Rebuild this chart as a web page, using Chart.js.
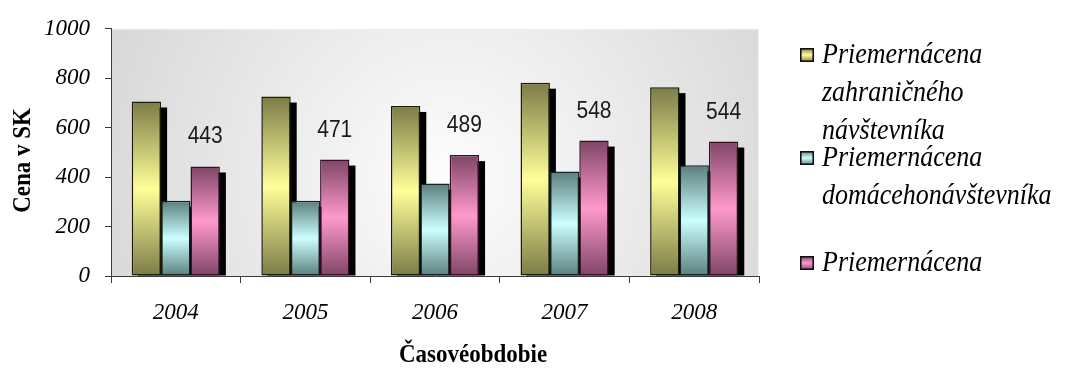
<!DOCTYPE html>
<html>
<head>
<meta charset="utf-8">
<style>
  html, body { margin: 0; padding: 0; background: #ffffff; }
  #wrap { width: 1072px; height: 372px; position: relative; }
</style>
<script src="https://cdn.jsdelivr.net/npm/chart.js@4.4.1/dist/chart.umd.min.js"></script>
</head>
<body>
<div id="wrap"><canvas id="chart" width="1072" height="372"></canvas></div>
<script>
// Categories and series values
const years = ['2004', '2005', '2006', '2007', '2008'];
const foreignVisitorPrice = [706, 726, 688, 782, 764];
const domesticVisitorPrice = [304, 304, 374, 423, 448];
const averagePrice = [443, 471, 489, 548, 544];
const yTickValues = [0, 200, 400, 600, 800, 1000];

// Legend texts (line by line) and axis titles
const foreignLabel = ['Priemernácena', 'zahraničného', 'návštevníka'];
const domesticLabel = ['Priemernácena', 'domácehonávštevníka'];
const averageLabel = ['Priemernácena'];
const xAxisTitle = 'Časovéobdobie';
const yAxisTitle = 'Cena v SK';

// Palette: dark edge tone, light middle tone, outline
const palette = [
  { dark: '#7b7b47', light: '#ffff99', border: '#1c1c08' },
  { dark: '#5b7e7e', light: '#ccffff', border: '#142222' },
  { dark: '#7e4566', light: '#ff99cc', border: '#3a0f26' }
];

const SERIF = "'Liberation Serif', 'Times New Roman', serif";
const SANS = "'Liberation Sans', Arial, sans-serif";

function barFill(p) {
  return (ctx) => {
    const chart = ctx.chart;
    if (!chart.chartArea || ctx.type !== 'data') return p.light;
    const y = chart.scales.y;
    const top = y.getPixelForValue(ctx.raw);
    const base = y.getPixelForValue(0);
    if (!isFinite(top) || Math.abs(base - top) < 1) return p.light;
    const g = chart.ctx.createLinearGradient(0, top, 0, base);
    g.addColorStop(0, p.dark);
    g.addColorStop(0.5, p.light);
    g.addColorStop(1, p.dark);
    return g;
  };
}

// Draws text squeezed slightly taller than wide
function tallText(ctx, text, x, y, stretch) {
  ctx.save();
  ctx.translate(x, y);
  ctx.scale(1, stretch);
  ctx.fillText(text, 0, 0);
  ctx.restore();
}

// Soft grey plot background, lighter towards the middle
const plotBackground = {
  id: 'plotBackground',
  beforeDraw(chart) {
    const { ctx, chartArea: a } = chart;
    const cx = a.left + (a.right - a.left) * 0.52;
    const cy = a.top + (a.bottom - a.top) * 0.6;
    const g = ctx.createRadialGradient(cx, cy, 0, cx, cy, 380);
    g.addColorStop(0, '#fdfdfd');
    g.addColorStop(0.45, '#ececec');
    g.addColorStop(1, '#d6d6d6');
    ctx.save();
    ctx.fillStyle = g;
    ctx.fillRect(a.left, a.top, a.right - a.left, a.bottom - a.top);
    ctx.strokeStyle = '#f2f2f2';
    ctx.lineWidth = 1;
    ctx.strokeRect(a.left + 0.5, a.top + 0.5, a.right - a.left - 1, a.bottom - a.top);
    ctx.restore();
  }
};

// Black drop shadows offset behind every bar
const barShadows = {
  id: 'barShadows',
  beforeDatasetsDraw(chart, args, opts) {
    const { ctx } = chart;
    const off = opts.offset;
    ctx.save();
    ctx.fillStyle = '#000000';
    chart.data.datasets.forEach((ds, i) => {
      chart.getDatasetMeta(i).data.forEach((el) => {
        const { x, y, base, width } = el.getProps(['x', 'y', 'base', 'width'], true);
        ctx.fillRect(x - width / 2 + off, y + off, width, base - y - off);
      });
    });
    ctx.restore();
  }
};

// Value labels above the average-price bars
const valueLabels = {
  id: 'valueLabels',
  afterDatasetsDraw(chart, args, opts) {
    const { ctx } = chart;
    const meta = chart.getDatasetMeta(opts.datasetIndex);
    const values = chart.data.datasets[opts.datasetIndex].data;
    ctx.save();
    ctx.font = `${opts.size}px ${SANS}`;
    ctx.fillStyle = '#1a1a1a';
    ctx.textAlign = 'center';
    ctx.textBaseline = 'alphabetic';
    meta.data.forEach((el, i) => {
      tallText(ctx, String(values[i]), el.x, el.y - opts.gap, opts.stretch);
    });
    ctx.restore();
  }
};

// Axis titles placed relative to the plot area
const axisTitles = {
  id: 'axisTitles',
  afterDraw(chart, args, opts) {
    const { ctx, chartArea: a } = chart;
    ctx.save();
    ctx.fillStyle = '#000000';
    ctx.textAlign = 'center';
    ctx.textBaseline = 'middle';
    ctx.font = `bold ${opts.size}px ${SERIF}`;
    tallText(ctx, opts.x, (a.left + a.right) / 2 + opts.xShift, a.bottom + opts.xDrop, 1.1);
    ctx.translate(a.left - opts.yGap, (a.top + a.bottom) / 2 + opts.yShift);
    ctx.rotate(-Math.PI / 2);
    tallText(ctx, opts.y, 0, 0, 1.1);
    ctx.restore();
  }
};

// Legend drawn line by line at the right of the plot
const sideLegend = {
  id: 'sideLegend',
  afterDraw(chart, args, opts) {
    const { ctx } = chart;
    ctx.save();
    ctx.font = `italic ${opts.size}px ${SERIF}`;
    ctx.textAlign = 'left';
    ctx.textBaseline = 'alphabetic';
    chart.data.datasets.forEach((ds, i) => {
      const p = palette[i];
      const baseY = opts.baselines[i];
      const my = baseY - opts.box - 1;
      const g = ctx.createLinearGradient(0, my, 0, my + opts.box);
      g.addColorStop(0, p.dark);
      g.addColorStop(0.5, p.light);
      g.addColorStop(1, p.dark);
      ctx.fillStyle = g;
      ctx.fillRect(opts.x, my, opts.box, opts.box);
      ctx.lineWidth = 1.6;
      ctx.strokeStyle = '#111111';
      ctx.strokeRect(opts.x + 0.8, my + 0.8, opts.box - 1.6, opts.box - 1.6);
      ctx.fillStyle = '#000000';
      ds.legendLines.forEach((line, k) => {
        tallText(ctx, line, opts.x + opts.box + opts.textGap, baseY + k * opts.lineHeight, opts.stretch);
      });
    });
    ctx.restore();
  }
};

const datasets = [
  { label: foreignLabel.join(' '), legendLines: foreignLabel, data: foreignVisitorPrice },
  { label: domesticLabel.join(' '), legendLines: domesticLabel, data: domesticVisitorPrice },
  { label: averageLabel.join(' '), legendLines: averageLabel, data: averagePrice }
].map((d, i) => Object.assign(d, {
  backgroundColor: barFill(palette[i]),
  borderColor: palette[i].border,
  borderWidth: 1.5,
  borderSkipped: false,
  categoryPercentage: 0.68,
  barPercentage: 1.0
}));

new Chart(document.getElementById('chart'), {
  type: 'bar',
  data: { labels: years, datasets },
  plugins: [plotBackground, barShadows, valueLabels, axisTitles, sideLegend],
  options: {
    responsive: false,
    animation: false,
    events: [],
    layout: { padding: { top: 24, right: 313, left: 0, bottom: 0 } },
    plugins: {
      legend: { display: false },
      tooltip: { enabled: false },
      barShadows: { offset: 6 },
      valueLabels: { datasetIndex: 2, size: 21, gap: 23, stretch: 1.16 },
      axisTitles: { x: xAxisTitle, y: yAxisTitle, size: 23, xShift: 38, xDrop: 79, yGap: 88, yShift: 8 },
      sideLegend: { x: 800, box: 14, textGap: 8, size: 26, stretch: 1.12, lineHeight: 38,
                    baselines: [63, 166, 271] }
    },
    scales: {
      x: {
        afterFit(s) { s.height = 96; },
        grid: { drawOnChartArea: false, tickLength: 7, color: '#3a3a3a', offset: true },
        border: { color: '#3a3a3a', width: 1 },
        ticks: { color: '#000000', padding: 16, font: { family: SERIF, size: 23, style: 'italic' } }
      },
      y: {
        min: 0,
        max: 1000,
        afterFit(s) { s.width = 111; },
        afterBuildTicks(s) { s.ticks = yTickValues.map(v => ({ value: v })); },
        grid: { drawOnChartArea: false, tickLength: 6, color: '#3a3a3a' },
        border: { color: '#3a3a3a', width: 1 },
        ticks: {
          color: '#000000', padding: 15,
          font: { family: SERIF, size: 23, style: 'italic' },
          callback: (v) => String(v)
        }
      }
    }
  }
});
</script>
</body>
</html>
